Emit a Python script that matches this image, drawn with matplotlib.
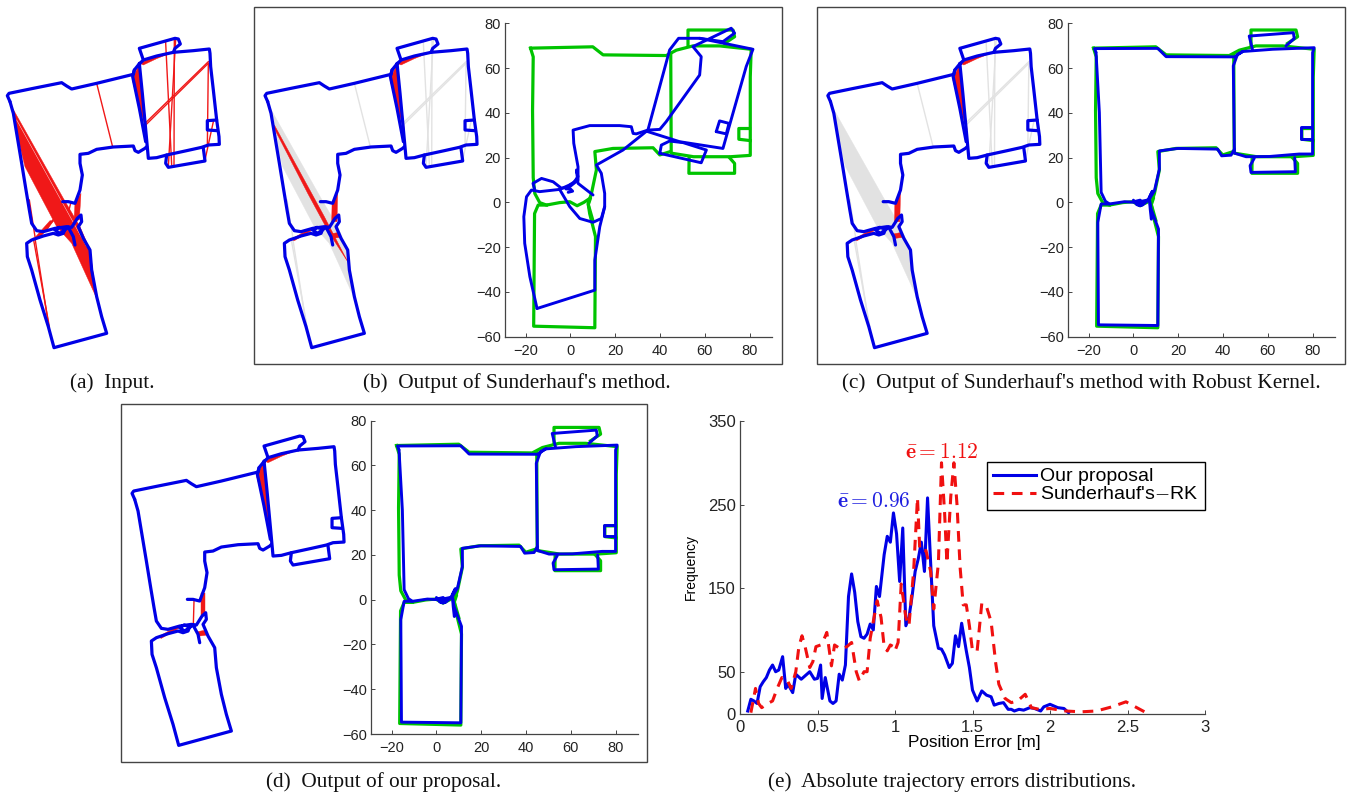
import numpy as np
import matplotlib
matplotlib.use("Agg")
import matplotlib.pyplot as plt
from matplotlib.patches import Rectangle

plt.rcParams['font.family'] = ['Liberation Sans', 'DejaVu Sans']
plt.rcParams['mathtext.fontset'] = 'cm'

W, H = 1351, 792
BLUE = '#0000e6'
GREEN = '#00c400'
RED = '#f01818'
GREY = '#e2e2e2'
AXC = '#444444'

# ---- input pose graph, units are third of a pixel of panel (a)
map_left = [(30,215),(22,197),(27,190),(100,175),(185,158),(200,168),(215,177),(290,160),(400,133),(403,120),(415,105),(430,90),(470,78),(520,67),(580,62),(628,57),(630,70),(632,110),(640,180),(650,270),(657,320),(658,343),(625,345),(605,352),(560,362),(500,375),(470,383),(445,385),(440,330),(427,190),(418,100)]
map_side = [(403,120),(398,140),(418,235),(437,335)]
map_lower = [(30,215),(40,250),(50,310),(65,400),(78,480),(88,540),(95,580),(110,602),(130,605),(165,595),(200,590),(215,592),(232,565),(243,555),(245,575),(235,590),(250,625),(270,660),(275,720),(290,800),(305,860),(320,910),(162,953),(145,890),(120,810),(95,720),(82,680),(80,640),(95,630),(130,618),(160,610),(175,615),(190,610),(195,597),(178,592),(165,600),(180,610),(205,592),(220,620),(225,645)]
map_middle = [(440,350),(435,355),(415,367),(405,362),(400,348),(340,351),(290,358),(265,370),(240,373),(240,400),(247,435),(240,480),(225,520),(205,515),(188,515)]
map_room_top = [(430,90),(418,55),(525,25),(535,27),(541,42),(525,55),(520,67)]
map_room_low = [(500,375),(497,400),(505,412),(615,393),(610,355)]
map_door = [(650,270),(622,272),(622,300),(652,302)]
map_paths = [map_left, map_side, map_lower, map_middle, map_room_top, map_room_low, map_door]

# single loop closures: start x, start y, end x, end y
closures = [(290,160,338,351),(625,95,435,280),(625,100,437,285),(497,38,515,405),(527,28,505,410),(523,30,522,405),(625,100,622,350),(640,275,615,390),(88,510,105,620),(100,625,148,890),(105,625,145,880)]
fan_gaps = [(50,270,260,650)]
cross_lines = [(188,515,215,590),(212,520,195,590),(160,568,140,600)]

fan = [(38,235),(190,505),(240,590),(270,660),(290,805),(215,640),(170,590),(75,410),(50,310)]
wedge = [(397,150),(418,100),(440,300),(418,235)]
top_strip = [(420,100),(470,76),(520,66),(470,86),(430,105)]
junction_a = [(225,520),(243,490),(238,570),(222,570)]
lower_a = [(100,628),(150,572),(162,572),(118,625)]
lower_right = [(218,612),(244,607),(248,622),(225,625)]
junction_d = [(230,497),(240,497),(240,562),(230,562)]
strip_b = [(50,285),(200,560),(270,695),(215,610),(150,490),(52,300)]
junction_b = [(223,525),(240,485),(238,575),(222,575)]
lower_b = [(100,628),(150,600),(165,600),(110,632)]
room_d = [(396,147),(416,102),(441,357),(420,240)]
thin_d = (208,517,206,587)

# ---- optimised trajectories in metres
truth_outer = [(-17.8,68.9),(10,69.5),(14.6,65.9),(42.8,65.6),(47.3,68),(54.7,69.9),(66.6,69.9),(80.7,68.4),(80.3,56),(80.3,21),(71.5,20.4),(55,20.4),(45,22),(44.8,65.9)]
truth_left = [(-17.8,68.9),(-16.6,65),(-16.9,41),(-16.6,11),(-15.9,4),(-13.7,-0.1),(-10.7,-1.2),(-4.8,-0.1),(-0.3,0.3),(3,-1.5),(6,0),(9,2),(8,-1),(10,-8)]
truth_low = [(-10.7,-1.2),(-14.4,-1.2),(-16,-5),(-16.4,-55.3),(10.9,-56),(11.2,-15.3),(8.6,-5),(7.9,-0.5),(9.4,4),(11.6,14.5),(10.9,22.7),(19,24.1),(36.9,24.4),(39.9,21.2),(44.3,22.6)]
truth_top = [(52.5,69.9),(52.5,77),(72.6,77),(73.3,74),(68.8,71)]
truth_bot = [(53,20.4),(52.9,13),(73.3,13),(73.3,17.4),(71,20)]
truth_door = [(80,33),(75.2,33),(75.2,28.2),(80.3,27.6)]
truth_paths = [truth_outer, truth_left, truth_low, truth_top, truth_bot, truth_door]

sund_a = [(-14.9,-47.4),(-18.1,-33.2),(-20.4,-18.3),(-20.8,-6.4),(-19.6,2.5),(-17.4,5.5),(-13.7,4.8),(-4.8,5.8),(1.2,8.5),(3.4,11.5),(2.7,14.5),(3.4,8.5),(10.1,3.3)]
sund_b = [(-14.9,-47.4),(10.9,-39.2),(10.9,-25.8),(13.1,-10.9),(15.3,-2),(15.3,4),(13.8,13),(11.6,16.7),(23.5,23.4),(34.6,32.3),(44.3,68.1),(48.3,73.3),(57.7,73.3),(81.5,68.4),(78.5,60.7),(68.1,24.1),(48.8,27.1),(34.6,31.6)]
sund_c = [(34.6,32.3),(29.4,30.6),(28,30.8),(27.2,33.8),(22,34.3),(8.6,34.3),(1.2,32.3),(1.5,26.4),(3.4,15.9),(3.4,10),(-0.3,7),(-4,6.3),(-7.7,9.2),(-12.9,10.7),(-16.7,8.5),(-15.9,5.5)]
sund_d = [(-4.8,5.8),(-0.3,-1.9),(4.2,-7.2),(10.1,-8.9),(13.8,-7.2),(15.3,-1.9)]
sund_e = [(34.6,32.3),(39.9,32.6),(42.8,36.1),(57.7,56.9),(58.4,65.1),(54.7,69.6),(71.8,77.8),(73.3,75.6),(68.1,71.8),(57.7,73.3)]
sund_f = [(39.9,21.9),(40.6,25.6),(44.3,27.4),(50.3,26.7),(60.7,23.4),(58.4,17.7),(39.9,21.9)]
sund_g = [(65.1,31.6),(66.6,36.4),(70.8,35.3),(69.6,30.6),(65.1,31.6)]
sund_h = [(-1,4.5),(1,5),(0,6),(-2,6),(0,8),(3,10)]
sund_paths = [sund_a, sund_b, sund_c, sund_d, sund_e, sund_f, sund_g, sund_h]

opt_top = [(-16.7,67),(-17.4,68.7),(10.9,68.8),(14.6,65.1),(45.1,65),(48.8,67.4),(62.2,68.4),(80.7,69.1),(80,66.9),(80,21.6),(74,21.6),(60.7,20.5),(50.3,20.4),(45.1,22),(44.6,61),(46.5,66.2),(48.8,67.4)]
opt_left = [(-16.7,67),(-15.2,40.1),(-14.4,4.5),(-12.5,0.5),(-10.7,-0.7),(-4,0.3),(1.2,0),(7.1,1.2)]
opt_low = [(-10.7,-0.7),(-14.4,-0.7),(-15.9,-8.9),(-15.6,-54.7),(10.9,-55),(11.2,-11.9),(7.9,-3),(7.1,1.5),(9.4,5.2),(11.6,14.9),(11.6,23),(19.8,24.1),(37.6,23.8),(39.4,20.8),(43.6,21.1),(45.1,23.8)]
opt_room_top = [(53.2,68.1),(51.7,74.3),(71.4,75.8),(71.8,73.2),(68.1,69.9)]
opt_room_low = [(54,19.8),(52.1,16.4),(52.5,13.4),(72.3,13.7),(72,20)]
opt_door = [(79.7,33.5),(74.8,33.5),(74.8,28.3),(79.7,28.3)]
opt_knot = [(0,1),(1.5,-1),(3,-1.5),(4.5,-0.5),(3,1),(1,0.5),(3,-0.8),(5,0),(3.5,0.3),(2,-1),(4,-1.2),(6,0.5),(7,2),(8.5,5),(7.5,3),(7.2,1),(7.5,-3),(8,-7.5),(8.5,-5)]
opt_paths = [opt_top, opt_left, opt_low, opt_room_top, opt_room_low, opt_door, opt_knot]

# ---- histogram curves
our_x = [0.05,0.07,0.09,0.11,0.13,0.15,0.17,0.19,0.21,0.23,0.25,0.275,0.295,0.31,0.34,0.36,0.395,0.45,0.48,0.50,0.52,0.53,0.55,0.58,0.60,0.62,0.64,0.66,0.68,0.70,0.72,0.74,0.76,0.78,0.80,0.82,0.84,0.86,0.88,0.90,0.93,0.95,0.97,0.99,1.01,1.03,1.05,1.07,1.09,1.11,1.13,1.15,1.17,1.19,1.21,1.23,1.25,1.28,1.30,1.32,1.35,1.37,1.39,1.41,1.43,1.46,1.48,1.50,1.53,1.56,1.59,1.62,1.64,1.67,1.70,1.73,1.75,1.77,1.80,1.83,1.87,1.90,1.94,1.96,2.0,2.05,2.09,2.12]
our_y = [3,17,15,12,32,38,43,52,58,50,52,68,30,35,25,47,41,50,41,42,58,18,43,15,12,15,47,40,58,140,167,145,110,92,90,95,107,100,152,140,190,212,205,240,215,158,222,105,115,140,170,185,205,170,258,180,105,78,77,70,55,60,93,80,108,75,55,28,15,27,22,20,10,12,13,5,5,3,5,4,7,6,3,8,11,7,6,1]
rk_x = [0.07,0.09,0.10,0.12,0.14,0.18,0.21,0.24,0.27,0.30,0.33,0.36,0.38,0.40,0.42,0.45,0.47,0.49,0.52,0.54,0.56,0.59,0.61,0.65,0.69,0.72,0.75,0.77,0.80,0.82,0.84,0.87,0.885,0.91,0.93,0.95,0.97,0.99,1.00,1.02,1.04,1.07,1.09,1.12,1.145,1.16,1.18,1.20,1.23,1.25,1.28,1.30,1.32,1.335,1.36,1.38,1.40,1.42,1.44,1.46,1.48,1.50,1.53,1.56,1.59,1.62,1.65,1.67,1.71,1.75,1.79,1.84,1.88,1.93,2.0,2.10,2.2,2.3,2.4,2.49,2.55,2.61]
rk_y = [1,20,30,12,7,12,15,30,43,42,30,50,80,93,80,55,62,80,82,88,97,57,82,77,80,85,50,39,50,50,90,120,135,115,80,75,82,80,75,85,155,115,105,170,258,195,195,195,170,125,180,300,240,180,260,300,250,175,130,130,105,75,75,132,128,110,60,35,18,13,15,23,7,5,6,3,2,3,8,14,8,2]
e_xticks = [0, 0.5, 1, 1.5, 2, 2.5, 3]
e_xlabels = ['0', '0.5', '1', '1.5', '2', '2.5', '3']
e_yticks = [0, 50, 150, 250, 350]
traj_xticks = [-20, 0, 20, 40, 60, 80]
traj_yticks = [-60, -40, -20, 0, 20, 40, 60, 80]

fig = plt.figure(figsize=(W / 100, H / 100), dpi=100)


def px_axes(left, top, right, bottom):
    return fig.add_axes([left / W, 1 - bottom / H, (right - left) / W, (bottom - top) / H])


def map_axes(x0, y0):
    ax = px_axes(x0, y0, x0 + 250, y0 + 340)
    ax.set_xlim(0, 750)
    ax.set_ylim(1020, 0)
    ax.axis('off')
    ax.patch.set_alpha(0)
    return ax


def draw_map(ax):
    for p in map_paths:
        a = np.array(p)
        ax.plot(a[:, 0], a[:, 1], color=BLUE, lw=2.3, solid_joinstyle='round', solid_capstyle='round', clip_on=False, zorder=5)


def draw_segs(ax, segs, color, lw=1.0, z=2):
    for s in segs:
        ax.plot([s[0], s[2]], [s[1], s[3]], color=color, lw=lw, zorder=z)


def draw_polys(ax, polys, color):
    for p in polys:
        a = np.array(p)
        ax.fill(a[:, 0], a[:, 1], color=color, lw=0.3, zorder=3)


def style_axes(ax, size, xpad, ypad):
    for s in ['top', 'right']:
        ax.spines[s].set_visible(False)
    for s in ['left', 'bottom']:
        ax.spines[s].set_color(AXC)
        ax.spines[s].set_linewidth(0.9)
    ax.tick_params(direction='in', length=3, width=0.7, color=AXC, labelsize=size, labelcolor='#222222')
    ax.tick_params(axis='x', pad=xpad)
    ax.tick_params(axis='y', pad=ypad)


def traj_axes(left, top, right, bottom, paths):
    ax = px_axes(left, top, right, bottom)
    ax.set_xlim(-29.2, 90)
    ax.set_ylim(-60, 80)
    for p in truth_paths:
        a = np.array(p)
        ax.plot(a[:, 0], a[:, 1], color=GREEN, lw=2.3, solid_joinstyle='round', clip_on=False)
    for p in paths:
        a = np.array(p)
        ax.plot(a[:, 0], a[:, 1], color=BLUE, lw=2.1, solid_joinstyle='round', solid_capstyle='round', clip_on=False)
    ax.set_xticks(traj_xticks)
    ax.set_yticks(traj_yticks)
    style_axes(ax, 10.5, 5, 3)
    return ax


def frame(left, top, right, bottom):
    fig.add_artist(Rectangle((left / W, 1 - bottom / H), (right - left) / W, (bottom - top) / H,
                             transform=fig.transFigure, fill=False, ec=AXC, lw=1.0))


def caption(cx, y, s):
    fig.text(cx / W, 1 - y / H, s, ha='center', va='center', family='Liberation Serif', fontsize=15.3, color='#111111')


# panel a
ax = map_axes(0, 30)
draw_segs(ax, closures + cross_lines, RED)
draw_polys(ax, [fan, wedge, top_strip, junction_a, lower_a, lower_right], RED)
draw_segs(ax, fan_gaps, 'white', lw=0.3, z=4)
draw_map(ax)

# panel b
frame(254, 7, 782, 364)
ax = map_axes(257.7, 30)
draw_segs(ax, closures, GREY)
draw_polys(ax, [fan], GREY)
draw_polys(ax, [strip_b, wedge, top_strip, junction_b, lower_b, lower_right], RED)
draw_map(ax)
traj_axes(505, 23.3, 772, 336.7, sund_paths)

# panel c
frame(817, 7, 1345, 364)
ax = map_axes(820.5, 30)
draw_segs(ax, closures, GREY)
draw_polys(ax, [fan], GREY)
draw_polys(ax, [wedge, top_strip, junction_b, lower_b, lower_right], RED)
draw_map(ax)
traj_axes(1068, 23.3, 1335, 336.7, opt_paths)

# panel d
frame(121, 404, 647, 762)
ax = map_axes(124.7, 427.7)
draw_segs(ax, [thin_d], RED)
draw_polys(ax, [room_d, top_strip, junction_d, lower_b, lower_right], RED)
draw_map(ax)
traj_axes(371, 420.7, 638, 734, opt_paths)

# panel e
ax = px_axes(740, 421, 1205, 713.5)
ax.plot(our_x, our_y, color=BLUE, lw=2.2, label='Our proposal')
ax.plot(rk_x, rk_y, color='#f01010', lw=2.2, ls=(0, (3.5, 2.5)), label="Sunderhauf's$-$RK")
ax.set_xlim(0, 3)
ax.set_ylim(0, 350)
ax.set_xticks(e_xticks)
ax.set_xticklabels(e_xlabels)
ax.set_yticks(e_yticks)
style_axes(ax, 12, 5, 3)
ax.set_xlabel('Position Error [m]', fontsize=12.3)
ax.xaxis.set_label_coords((974 - 740) / 465, (713.5 - 735) / 292.5)
ax.set_ylabel('Frequency', fontsize=10)
ax.yaxis.set_label_coords((698 - 740) / 465, (713.5 - 567) / 292.5)
ax.text(0.86, 254, r'$\mathbf{\bar{e}}{=}\mathrm{0.96}$', color='#2020e0', fontsize=15.5, ha='center', va='center')
ax.text(1.30, 312, r'$\mathbf{\bar{e}}{=}\mathrm{1.12}$', color='#f01010', fontsize=15.5, ha='center', va='center')
leg = ax.legend(loc='upper left', bbox_to_anchor=((987 - 740) / 465, (713.5 - 461.5) / 292.5), fontsize=14,
                frameon=True, fancybox=False, edgecolor='black', framealpha=1, borderaxespad=0,
                handlelength=2.2, borderpad=0.32, labelspacing=0.02, handletextpad=0.22)
leg.get_frame().set_linewidth(1.0)

caption(112, 383, '(a)  Input.')
caption(517, 383, "(b)  Output of Sunderhauf's method.")
caption(1081, 383, "(c)  Output of Sunderhauf's method with Robust Kernel.")
caption(384, 782, '(d)  Output of our proposal.')
caption(952, 782, '(e)  Absolute trajectory errors distributions.')

fig.savefig('out.png', dpi=100)
